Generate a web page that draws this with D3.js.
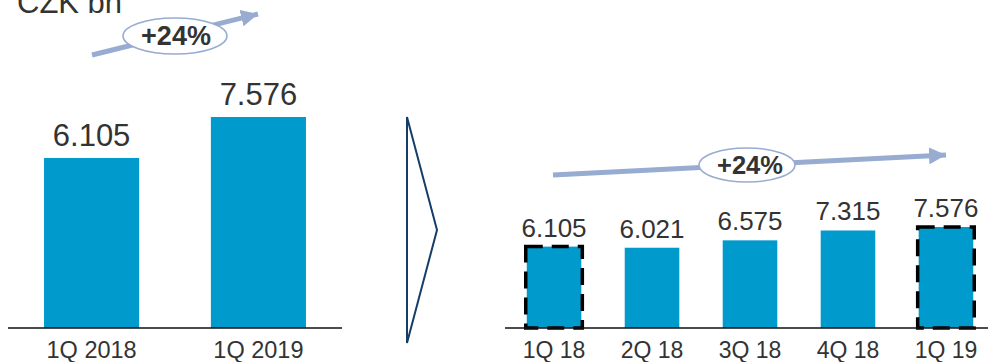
<!DOCTYPE html>
<html>
<head>
<meta charset="utf-8">
<script src="https://cdn.jsdelivr.net/npm/d3@7"></script>
<style>
  body { margin: 0; background: #fff; }
  text { font-family: "Liberation Sans", Arial, sans-serif; fill: #333; }
</style>
</head>
<body>
<div id="chart"></div>
<script>
// yearly comparison
var yearCats = ["1Q 2018", "1Q 2019"];
var yearVals = [6.105, 7.576];
// quarterly
var qCats = ["1Q 18", "2Q 18", "3Q 18", "4Q 18", "1Q 19"];
var qVals = [6.105, 6.021, 6.575, 7.315, 7.576];
var qHighlight = ["1Q 18", "1Q 19"];
var unitLabel = "CZK bn";
var growthLabel = "+24%";

var barColor = "#009acd";
var arrowColor = "#97acd0";
var width = 988, height = 362;
var base = 328;

var svg = d3.select("#chart").append("svg")
  .attr("width", width)
  .attr("height", height);

svg.append("defs").selectAll("marker")
  .data(["head"])
  .join("marker")
  .attr("id", "head")
  .attr("viewBox", "0 0 10 10")
  .attr("refX", 10).attr("refY", 5)
  .attr("markerUnits", "userSpaceOnUse")
  .attr("markerWidth", 17).attr("markerHeight", 17)
  .attr("orient", "auto")
  .append("path")
  .attr("d", "M0,0L10,5L0,10Z")
  .attr("fill", arrowColor);

// ---- left chart
var x1 = d3.scaleBand(yearCats, [8, 342]).paddingInner(0.43).paddingOuter(0.216);
var y1 = d3.scaleLinear([0, 7.576], [base, 117]);

svg.append("g").selectAll("rect")
  .data(yearVals)
  .join("rect")
  .attr("x", (d, i) => x1(yearCats[i]))
  .attr("y", d => y1(d))
  .attr("width", x1.bandwidth())
  .attr("height", d => base - y1(d))
  .attr("fill", barColor);

svg.append("g").selectAll("text")
  .data(yearVals)
  .join("text")
  .attr("x", (d, i) => x1(yearCats[i]) + x1.bandwidth() / 2)
  .attr("y", d => y1(d) - 12)
  .attr("text-anchor", "middle")
  .style("font-size", "31px")
  .text(d => d.toFixed(3));

svg.append("line")
  .attr("x1", 8).attr("x2", 342)
  .attr("y1", base).attr("y2", base)
  .attr("stroke", "#111").attr("stroke-width", 1.5);

svg.append("g").selectAll("text")
  .data(yearCats)
  .join("text")
  .attr("x", d => x1(d) + x1.bandwidth() / 2)
  .attr("y", 358)
  .attr("text-anchor", "middle")
  .style("font-size", "23.5px")
  .text(d => d);

svg.append("text")
  .attr("x", 17).attr("y", 13)
  .style("font-size", "31px")
  .text(unitLabel);

// growth arrow left
svg.append("line")
  .attr("x1", 92).attr("y1", 55)
  .attr("x2", 258).attr("y2", 14)
  .attr("stroke", arrowColor).attr("stroke-width", 5)
  .attr("marker-end", "url(#head)");
svg.append("ellipse")
  .attr("cx", 175).attr("cy", 36)
  .attr("rx", 52).attr("ry", 18)
  .attr("fill", "#fff")
  .attr("stroke", arrowColor).attr("stroke-width", 1.5);
svg.append("text")
  .attr("x", 176).attr("y", 45)
  .attr("text-anchor", "middle")
  .style("font-size", "27px").style("font-weight", "bold")
  .text(growthLabel);

// ---- chevron
svg.append("path")
  .attr("d", "M407,117L437,230L407,343Z")
  .attr("fill", "none")
  .attr("stroke", "#143d68").attr("stroke-width", 2);

// ---- right chart
var x2 = d3.scaleBand(qCats, [505, 995]).paddingInner(0.443).paddingOuter(0.222);
var y2 = d3.scaleLinear([0, 7.576], [base, 227]);

svg.append("g").selectAll("rect")
  .data(qVals)
  .join("rect")
  .attr("x", (d, i) => x2(qCats[i]))
  .attr("y", d => y2(d))
  .attr("width", x2.bandwidth())
  .attr("height", d => base - y2(d))
  .attr("fill", barColor);

svg.append("g").selectAll("rect")
  .data(qVals.filter((d, i) => qHighlight.includes(qCats[i])))
  .join("rect")
  .attr("x", (d, i) => x2(qHighlight[i]) - 1)
  .attr("y", d => y2(d))
  .attr("width", x2.bandwidth() + 2)
  .attr("height", d => base - y2(d))
  .attr("fill", "none")
  .attr("stroke", "#000").attr("stroke-width", 3.5)
  .attr("stroke-dasharray", "17,9");

svg.append("g").selectAll("text")
  .data(qVals)
  .join("text")
  .attr("x", (d, i) => x2(qCats[i]) + x2.bandwidth() / 2)
  .attr("y", d => y2(d) - 10)
  .attr("text-anchor", "middle")
  .style("font-size", "26px")
  .text(d => d.toFixed(3));

svg.append("line")
  .attr("x1", 505).attr("x2", 988)
  .attr("y1", base).attr("y2", base)
  .attr("stroke", "#111").attr("stroke-width", 1.5);

svg.append("g").selectAll("text")
  .data(qCats)
  .join("text")
  .attr("x", d => x2(d) + x2.bandwidth() / 2)
  .attr("y", 358)
  .attr("text-anchor", "middle")
  .style("font-size", "23px")
  .text(d => d);

// growth arrow right
svg.append("line")
  .attr("x1", 553).attr("y1", 175)
  .attr("x2", 946).attr("y2", 155)
  .attr("stroke", arrowColor).attr("stroke-width", 5)
  .attr("marker-end", "url(#head)");
svg.append("ellipse")
  .attr("cx", 747).attr("cy", 165)
  .attr("rx", 48).attr("ry", 17)
  .attr("fill", "#fff")
  .attr("stroke", arrowColor).attr("stroke-width", 1.5);
svg.append("text")
  .attr("x", 750).attr("y", 174)
  .attr("text-anchor", "middle")
  .style("font-size", "25.5px").style("font-weight", "bold")
  .text(growthLabel);
</script>
</body>
</html>
